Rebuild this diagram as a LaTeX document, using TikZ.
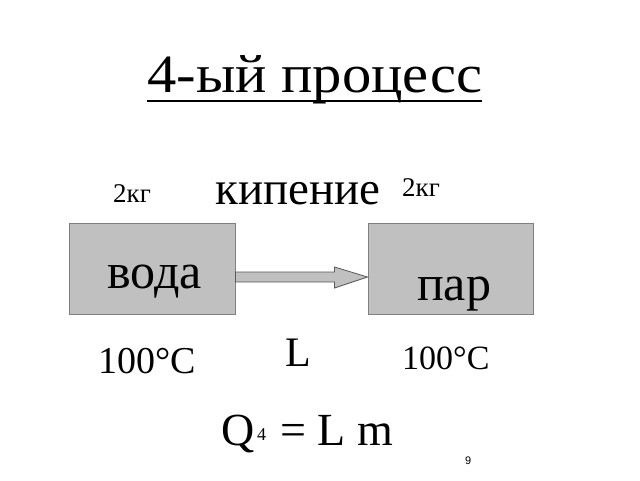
\documentclass[tikz,border=0pt]{standalone}
\usepackage{fontspec}
\setmainfont{Liberation Serif}
\newfontfamily\pagenumfont{Liberation Sans}
\definecolor{boxgray}{HTML}{C0C0C0}
\definecolor{edgegray}{HTML}{808080}
\definecolor{arrowedge}{HTML}{5A5A5A}
\begin{document}
\begin{tikzpicture}[x=1pt,y=1pt,
  txt/.style={inner sep=0pt,anchor=base west},
  box/.style={draw=edgegray,fill=boxgray,line width=1pt,inner sep=0pt},
  fatarrow/.style={draw=arrowedge,fill=boxgray,line width=0.8pt,line join=miter}]
\useasboundingbox (0,0) rectangle (640,480);
\fill[white] (0,0) rectangle (640,480);
% title
\node[txt,xscale=1.085,font=\fontsize{54}{60}\selectfont] (title) at (147,387) {4-ый процесс};
\draw[line width=2.5pt] ([yshift=-8pt]title.base west) -- ([yshift=-8pt]title.base east);
% boxes
\node[box,minimum width=166pt,minimum height=90pt] (water) at (152,211) {};
\node[box,minimum width=165pt,minimum height=90pt] (steam) at (450.5,211) {};
\node[txt,font=\fontsize{50}{55}\selectfont] (voda) at (107,192) {вода};
\node[txt,font=\fontsize{50}{55}\selectfont] (par) at (417,180) {пар};
% arrow
\draw[fatarrow] ([yshift=-3pt]water.east) -- ++(99pt,0) -- ++(0,5pt)
  -- ([yshift=-8pt]steam.west) -- ++(-33pt,-11pt) -- ++(0,6pt)
  -- ([yshift=-13pt]water.east) -- cycle;
% labels
\node[txt,font=\fontsize{27}{30}\selectfont] (massl) at (113,277) {2кг};
\node[txt,font=\fontsize{47}{52}\selectfont] (boil) at (215,275) {кипение};
\node[txt,font=\fontsize{27}{30}\selectfont] (massr) at (402,283) {2кг};
\node[txt,font=\fontsize{38}{42}\selectfont] (templ) at (98,107) {100°C};
\node[txt,font=\fontsize{42}{46}\selectfont] (heat) at (285,114) {L};
\node[txt,font=\fontsize{34}{38}\selectfont] (tempr) at (402,111) {100°C};
% formula
\node[txt,font=\fontsize{46}{50}\selectfont] (q) at (221,35) {Q};
\node[txt,font=\fontsize{18}{20}\selectfont] (qidx) at (257,40) {4};
\node[txt,font=\fontsize{46}{50}\selectfont] (eq) at (280,35) {= L m};
\node[txt,font=\pagenumfont\fontsize{11}{12}\selectfont] (pnum) at (465,16) {9};
\end{tikzpicture}
\end{document}
